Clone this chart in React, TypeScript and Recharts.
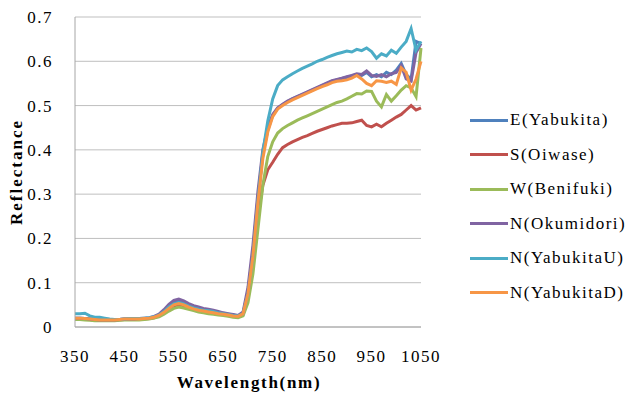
import React from "react";
import { LineChart, Line, XAxis, YAxis, CartesianGrid } from "recharts";

// wavelength 350..1050 nm, 10 nm steps
const wavelengths = [
  350, 360, 370, 380, 390, 400, 410, 420, 430, 440, 450, 460, 470, 480, 490, 500, 510, 520, 530, 540,
  550, 560, 570, 580, 590, 600, 610, 620, 630, 640, 650, 660, 670, 680, 690, 700, 710, 720, 730, 740,
  750, 760, 770, 780, 790, 800, 810, 820, 830, 840, 850, 860, 870, 880, 890, 900, 910, 920, 930, 940,
  950, 960, 970, 980, 990, 1000, 1010, 1020, 1030, 1040, 1050,
];

const eYabukita = [
  0.020, 0.020, 0.019, 0.018, 0.017, 0.016, 0.016, 0.016, 0.016, 0.017, 0.018, 0.018, 0.018, 0.018, 0.019, 0.020, 0.022, 0.027, 0.036, 0.047,
  0.056, 0.060, 0.056, 0.050, 0.045, 0.042, 0.039, 0.037, 0.035, 0.033, 0.031, 0.029, 0.027, 0.025, 0.031, 0.080, 0.170, 0.290, 0.390, 0.445,
  0.478, 0.494, 0.502, 0.509, 0.515, 0.520, 0.525, 0.530, 0.535, 0.540, 0.545, 0.550, 0.555, 0.558, 0.561, 0.564, 0.567, 0.570, 0.568, 0.575,
  0.565, 0.570, 0.565, 0.575, 0.570, 0.580, 0.595, 0.570, 0.560, 0.645, 0.640,
];

const sOiwase = [
  0.019, 0.019, 0.018, 0.017, 0.016, 0.015, 0.015, 0.015, 0.015, 0.016, 0.017, 0.017, 0.017, 0.017, 0.018, 0.019, 0.021, 0.025, 0.032, 0.041,
  0.048, 0.050, 0.048, 0.044, 0.040, 0.037, 0.035, 0.033, 0.031, 0.029, 0.028, 0.026, 0.024, 0.023, 0.028, 0.065, 0.140, 0.250, 0.320, 0.355,
  0.372, 0.390, 0.405, 0.412, 0.418, 0.423, 0.428, 0.432, 0.437, 0.442, 0.446, 0.450, 0.454, 0.457, 0.460, 0.460, 0.461, 0.464, 0.467, 0.455,
  0.452, 0.458, 0.452, 0.460, 0.467, 0.474, 0.480, 0.490, 0.500, 0.490, 0.495,
];

const wBenifuki = [
  0.017, 0.017, 0.016, 0.015, 0.014, 0.014, 0.014, 0.014, 0.014, 0.015, 0.016, 0.016, 0.016, 0.016, 0.017, 0.018, 0.020, 0.023, 0.029, 0.036,
  0.042, 0.045, 0.043, 0.040, 0.037, 0.034, 0.032, 0.030, 0.029, 0.027, 0.026, 0.024, 0.022, 0.021, 0.025, 0.055, 0.120, 0.220, 0.320, 0.385,
  0.418, 0.438, 0.448, 0.455, 0.461, 0.467, 0.472, 0.477, 0.482, 0.487, 0.492, 0.497, 0.502, 0.507, 0.510, 0.515, 0.521, 0.527, 0.526, 0.533,
  0.532, 0.510, 0.497, 0.525, 0.510, 0.522, 0.535, 0.545, 0.540, 0.520, 0.630,
];

const nOkumidori = [
  0.020, 0.020, 0.019, 0.018, 0.017, 0.016, 0.016, 0.016, 0.016, 0.017, 0.018, 0.018, 0.018, 0.019, 0.020, 0.021, 0.024, 0.029, 0.039, 0.051,
  0.060, 0.063, 0.059, 0.053, 0.048, 0.045, 0.042, 0.040, 0.038, 0.035, 0.032, 0.030, 0.028, 0.026, 0.034, 0.090, 0.185, 0.305, 0.400, 0.450,
  0.480, 0.495, 0.503, 0.510, 0.516, 0.521, 0.526, 0.531, 0.536, 0.541, 0.546, 0.551, 0.556, 0.559, 0.562, 0.565, 0.568, 0.572, 0.570, 0.578,
  0.568, 0.566, 0.570, 0.565, 0.572, 0.575, 0.590, 0.560, 0.555, 0.620, 0.640,
];

const nYabukitaU = [
  0.030, 0.030, 0.031, 0.025, 0.022, 0.022, 0.020, 0.018, 0.017, 0.017, 0.018, 0.019, 0.019, 0.019, 0.020, 0.021, 0.023, 0.027, 0.035, 0.045,
  0.052, 0.055, 0.052, 0.047, 0.043, 0.040, 0.038, 0.037, 0.035, 0.032, 0.030, 0.028, 0.026, 0.025, 0.030, 0.075, 0.160, 0.285, 0.395, 0.465,
  0.515, 0.545, 0.558, 0.565, 0.572, 0.578, 0.584, 0.589, 0.594, 0.600, 0.604, 0.609, 0.613, 0.617, 0.620, 0.623, 0.621, 0.627, 0.624, 0.630,
  0.622, 0.607, 0.617, 0.612, 0.625, 0.618, 0.632, 0.645, 0.674, 0.625, 0.645,
];

const nYabukitaD = [
  0.020, 0.020, 0.019, 0.018, 0.017, 0.016, 0.016, 0.016, 0.016, 0.017, 0.018, 0.018, 0.018, 0.018, 0.019, 0.020, 0.022, 0.026, 0.033, 0.042,
  0.050, 0.053, 0.050, 0.045, 0.041, 0.038, 0.036, 0.034, 0.032, 0.030, 0.029, 0.027, 0.025, 0.024, 0.030, 0.075, 0.160, 0.280, 0.380, 0.440,
  0.475, 0.492, 0.500, 0.507, 0.513, 0.518, 0.523, 0.528, 0.533, 0.538, 0.543, 0.547, 0.552, 0.555, 0.556, 0.558, 0.562, 0.568, 0.560, 0.550,
  0.545, 0.556, 0.555, 0.552, 0.555, 0.548, 0.585, 0.575, 0.535, 0.560, 0.600,
];

const xTicks = [350, 450, 550, 650, 750, 850, 950, 1050];
const yTicks = [0, 0.1, 0.2, 0.3, 0.4, 0.5, 0.6, 0.7];

const seriesList = [
  { key: "E(Yabukita)", values: eYabukita, color: "#4F81BD" },
  { key: "S(Oiwase)", values: sOiwase, color: "#C0504D" },
  { key: "W(Benifuki)", values: wBenifuki, color: "#9BBB59" },
  { key: "N(Okumidori)", values: nOkumidori, color: "#8064A2" },
  { key: "N(YabukitaU)", values: nYabukitaU, color: "#4BACC6" },
  { key: "N(YabukitaD)", values: nYabukitaD, color: "#F79646" },
];

const data = wavelengths.map((w, i) => {
  const row: Record<string, number> = { wl: w };
  seriesList.forEach((s) => {
    row[s.key] = s.values[i];
  });
  return row;
});

const FONT = "'Liberation Serif', serif";
const tickStyle = { fontFamily: FONT, fontSize: 17, fill: "#000", letterSpacing: 1.5 };

export default function App() {
  return (
    <div style={{ position: "absolute", left: 0, top: 0, width: 635, height: 395, background: "#fff", fontFamily: FONT }}>
      <LineChart width={635} height={395} data={data} margin={{ top: 17, right: 214, bottom: 38, left: 15 }}>
        <CartesianGrid vertical={false} stroke="#BFBFBF" strokeWidth={1} />
        <XAxis
          dataKey="wl"
          type="number"
          domain={[350, 1050]}
          ticks={xTicks}
          stroke="#A6A6A6"
          tickLine={false}
          tickMargin={17}
          height={30}
          tick={tickStyle}
        />
        <YAxis
          type="number"
          domain={[0, 0.7]}
          ticks={yTicks}
          stroke="#A6A6A6"
          tickLine={false}
          tickMargin={16}
          width={60}
          tickFormatter={(v: number) => (v === 0 ? "0" : v.toFixed(1))}
          tick={tickStyle}
        />
        {seriesList.map((s) => (
          <Line
            key={s.key}
            dataKey={s.key}
            stroke={s.color}
            strokeWidth={3}
            dot={false}
            type="linear"
            isAnimationActive={false}
          />
        ))}
      </LineChart>

      {/* axis titles */}
      <div
        style={{ position: "absolute", left: 249, top: 383, transform: "translate(-50%, -50%)", fontSize: 17, fontWeight: "bold", letterSpacing: 1.7, whiteSpace: "nowrap" }}
      >
        Wavelength(nm)
      </div>
      <div
        style={{ position: "absolute", left: 17, top: 172, transform: "translate(-50%, -50%) rotate(-90deg)", fontSize: 17, fontWeight: "bold", letterSpacing: 2, whiteSpace: "nowrap" }}
      >
        Reflectance
      </div>

      {/* legend */}
      <div style={{ position: "absolute", left: 470, top: 103, fontSize: 17, letterSpacing: 1.5, color: "#000" }}>
        {seriesList.map((s) => (
          <div key={s.key} style={{ display: "flex", alignItems: "center", height: 34.5 }}>
            <div style={{ width: 38, height: 3, background: s.color, marginRight: 2 }} />
            <span>{s.key}</span>
          </div>
        ))}
      </div>
    </div>
  );
}
